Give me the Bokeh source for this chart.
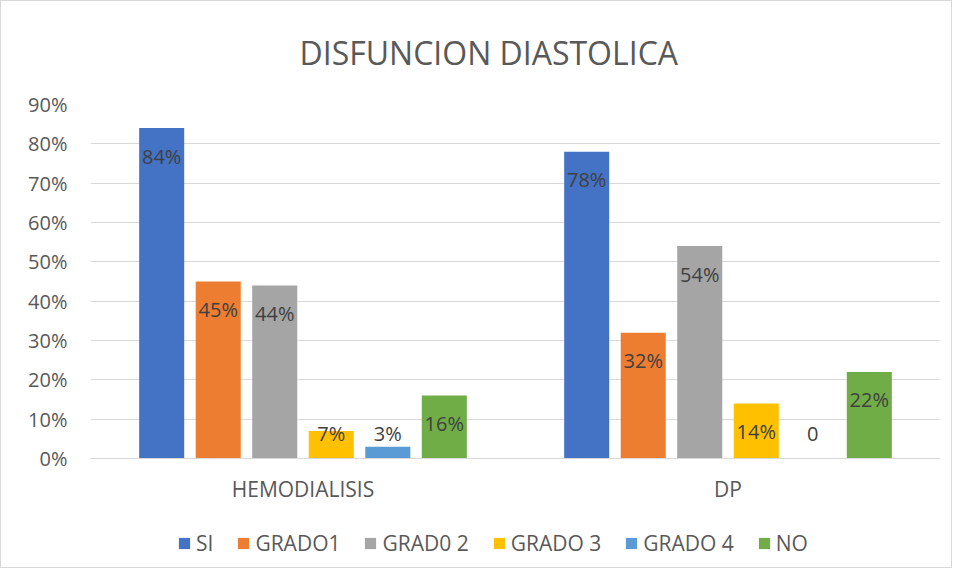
from bokeh.plotting import figure
from bokeh.layouts import column
from bokeh.models import (ColumnDataSource, FactorRange, Range1d, Legend, LegendItem,
                          NumeralTickFormatter, FixedTicker)
from bokeh.transform import dodge
from bokeh.core.properties import value
from bokeh.embed import file_html
from bokeh.resources import INLINE

# ---- data ----
groups = ["HEMODIALISIS", "DP"]
series = ["SI", "GRADO1", "GRAD0 2", "GRADO 3", "GRADO 4", "NO"]
hemodialisis = [0.84, 0.45, 0.44, 0.07, 0.03, 0.16]
dp = [0.78, 0.32, 0.54, 0.14, 0.0, 0.22]
hemodialisis_labels = ["84%", "45%", "44%", "7%", "3%", "16%"]
dp_labels = ["78%", "32%", "54%", "14%", "0", "22%"]
colors = ["#4472C4", "#ED7D31", "#A5A5A5", "#FFC000", "#5B9BD5", "#70AD47"]
y_ticks = [0.0, 0.1, 0.2, 0.3, 0.4, 0.5, 0.6, 0.7, 0.8, 0.9]

FONT = "Open Sans"
TXT = "#595959"

p = figure(x_range=FactorRange(*groups), y_range=Range1d(0, 0.9),
           width=950, height=504, output_backend="svg", toolbar_location=None,
           min_border_left=89, min_border_right=11, min_border_top=103, min_border_bottom=46,
           title="DISFUNCION DIASTOLICA")
p.outline_line_color = None
p.background_fill_color = "white"

p.title.align = "left"
p.title.offset = 209
p.title.vertical_align = "top"
p.title.text_font = FONT
p.title.text_font_size = "32px"
p.title.text_font_style = "normal"
p.title.text_color = TXT
p.title.standoff = 58

# legend strip below the chart (its bars have no size, only the swatches show)
pl = figure(width=950, height=62, output_backend="svg", toolbar_location=None,
            min_border_left=0, min_border_right=0, min_border_top=0, min_border_bottom=0,
            x_range=p.x_range, y_range=Range1d(-2, -1))
pl.axis.visible = False
pl.grid.visible = False
pl.outline_line_color = None

step = 0.133
width = 0.106
offsets = [(i - 2.5) * step for i in range(len(series))]

items = []
for i, name in enumerate(series):
    vals = [hemodialisis[i], dp[i]]
    labs = [hemodialisis_labels[i], dp_labels[i]]
    ly = [max(v, 0.134) for v in vals]
    src = ColumnDataSource(dict(grp=groups, val=vals, lab=labs, ly=ly))
    p.vbar(x=dodge("grp", offsets[i], range=p.x_range), top="val", width=width,
           source=src, fill_color=colors[i], line_color=None)
    p.text(x=dodge("grp", offsets[i], range=p.x_range), y="ly", text="lab", source=src,
           y_offset=28, text_align="center", text_baseline="middle",
           text_font=value(FONT), text_font_size="20px", text_color="#404040")
    r = pl.vbar(x=dodge("grp", offsets[i], range=p.x_range), top="val", bottom="val",
                width=0, source=src, fill_color=colors[i], line_color=None)
    items.append(LegendItem(label=name, renderers=[r]))

legend = Legend(items=items, orientation="horizontal", location=(87, 10),
                glyph_width=14, glyph_height=14, label_standoff=5, spacing=23,
                label_width=10, padding=0, margin=0, border_line_color=None,
                background_fill_alpha=0,
                label_text_font=FONT, label_text_font_size="21px", label_text_color=TXT)
pl.add_layout(legend, "center")

p.yaxis.ticker = FixedTicker(ticks=y_ticks)
p.yaxis.formatter = NumeralTickFormatter(format="0%")
p.yaxis.axis_line_color = None
p.yaxis.major_tick_line_color = None
p.yaxis.minor_tick_line_color = None
p.yaxis.major_label_standoff = 17
p.yaxis.major_label_text_font = FONT
p.yaxis.major_label_text_font_size = "20px"
p.yaxis.major_label_text_color = TXT

p.xaxis.axis_line_color = "#d9d9d9"
p.xaxis.axis_line_width = 1
p.xaxis.major_tick_line_color = None
p.xaxis.minor_tick_line_color = None
p.xaxis.major_label_standoff = 10
p.xaxis.major_label_text_font = FONT
p.xaxis.major_label_text_font_size = "21px"
p.xaxis.major_label_text_color = TXT

p.xgrid.grid_line_color = None
p.ygrid.grid_line_color = "#d9d9d9"
p.ygrid.grid_line_width = 1

layout = column(p, pl, spacing=0)
layout.styles = {"border": "1px solid #d9d9d9"}

open("out.html", "w").write(file_html(layout, INLINE))
